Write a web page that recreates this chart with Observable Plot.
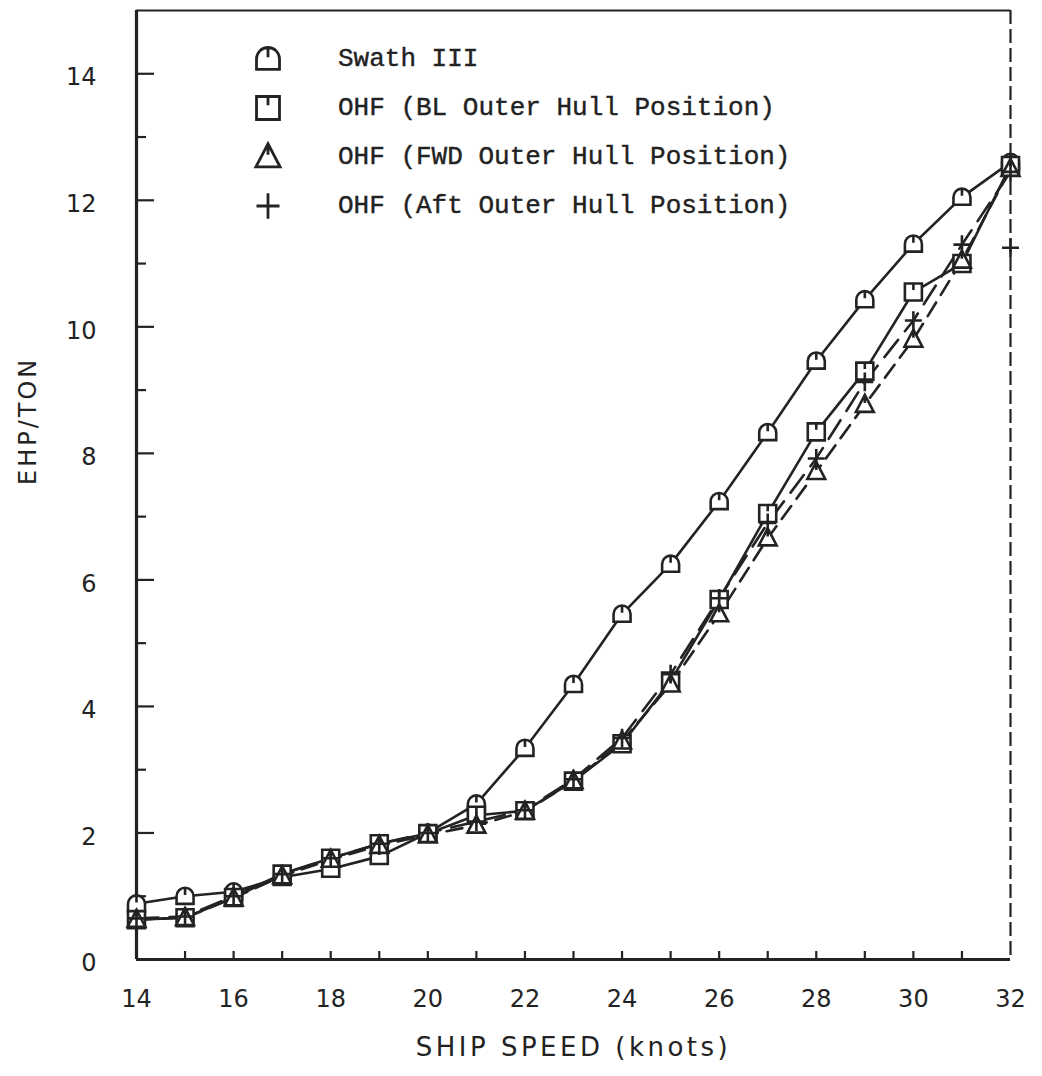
<!DOCTYPE html>
<html><head><meta charset="utf-8">
<script src="https://cdn.jsdelivr.net/npm/d3@7"></script>
<script src="https://cdn.jsdelivr.net/npm/@observablehq/plot@0.6"></script>
<style>
body{margin:0;background:#fff;}
#wrap{position:relative;width:1042px;height:1076px;overflow:hidden;}
#legend{position:absolute;left:248px;top:34px;font-family:"Liberation Mono",monospace;font-size:26px;color:#222;-webkit-text-stroke:0.4px #222;}
.row{display:flex;align-items:center;height:49px;white-space:pre;}
.row svg{width:40px;height:40px;margin-right:50px;}
</style></head><body><div id="wrap"><div id="legend"></div></div>
<script>
// ---- data ----
const speeds = [14,15,16,17,18,19,20,21,22,23,24,25,26,27,28,29,30,31,32];
const swath  = [0.88,1.0,1.07,1.3,1.43,1.63,2.0,2.46,3.34,4.35,5.46,6.25,7.24,8.33,9.46,10.43,11.31,12.05,12.6];
const blOuter  = [0.63,0.66,0.98,1.35,1.6,1.83,1.99,2.28,2.35,2.82,3.41,4.4,5.69,7.05,8.34,9.3,10.55,11.0,12.55];
const fwdOuter = [0.63,0.66,0.97,1.32,1.58,1.8,1.97,2.12,2.34,2.82,3.45,4.35,5.46,6.66,7.71,8.77,9.8,11.05,12.5];
const aftOuter = [0.65,0.68,1.0,1.35,1.6,1.83,2.0,2.18,2.36,2.85,3.5,4.51,5.71,6.9,7.92,9.13,10.1,11.3,12.45];
const aftExtraSpeed = [32];
const aftExtraValue = [11.25];
const seriesNames = ["Swath III","OHF (BL Outer Hull Position)","OHF (FWD Outer Hull Position)","OHF (Aft Outer Hull Position)"];
const xTickLabels = [14,16,18,20,22,24,26,28,30,32];
const xMinorTicks = [15,16,17,18,19,20,21,22,23,24,25,26,27,28,29,30,31];
const yTickLabels = [0,2,4,6,8,10,12,14];
const yMajorTicks = [2,4,6,8,10,12,14];
const yMinorTicks = [1,3,5,7,9,11,13];
const xDomain = [14,32];
const yDomain = [0,15];
const xTitle = "SHIP SPEED (knots)";
const yTitle = "EHP/TON";

// ---- symbols ----
const ink = "#232323";
const archSym = {draw(c,size){const r=Math.sqrt(size/Math.PI);
  c.moveTo(-r,r*0.9);c.lineTo(-r,0);c.arc(0,0,r,Math.PI,2*Math.PI);c.lineTo(r,r*0.9);c.closePath();
  c.moveTo(0,-r);c.lineTo(0,-r*0.15);}};
const squareSym = {draw(c,size){const r=Math.sqrt(size/Math.PI);
  c.moveTo(-r,-r);c.lineTo(r,-r);c.lineTo(r,r);c.lineTo(-r,r);c.closePath();
  c.moveTo(0,-r);c.lineTo(0,-r*0.25);}};
const triSym = {draw(c,size){const r=Math.sqrt(size/Math.PI);
  c.moveTo(0,-r*1.15);c.lineTo(r*1.05,r*0.85);c.lineTo(-r*1.05,r*0.85);c.closePath();
  c.moveTo(0,-r*1.15);c.lineTo(0,-r*0.2);}};
const plusSym = {draw(c,size){const r=Math.sqrt(size/Math.PI);
  c.moveTo(-r,0);c.lineTo(r,0);c.moveTo(0,-r*1.1);c.lineTo(0,r*1.1);}};

const seriesValues = [swath, blOuter, fwdOuter, aftOuter];
const symbols = [archSym, squareSym, triSym, plusSym];
const dashes = [null, null, "16,9", "22,11"];

const marks = [];
// axes
marks.push(Plot.axisX({ticks: xMinorTicks, tickSize: -8, fill: "none", stroke: ink, strokeWidth: 2.2, label: null}));
marks.push(Plot.axisX({ticks: xTickLabels, tickSize: 0, tickPadding: 30, fontSize: 24, fill: ink, label: null, tickFormat: d => String(d)}));
marks.push(Plot.axisY({ticks: yMajorTicks, tickSize: -18, fill: "none", stroke: ink, strokeWidth: 2.2, label: null}));
marks.push(Plot.axisY({ticks: yMinorTicks, tickSize: -10, fill: "none", stroke: ink, strokeWidth: 2.2, label: null}));
marks.push(Plot.axisY({ticks: yTickLabels, tickSize: 0, tickPadding: 40, fontSize: 24, fill: ink, label: null, dy: 4, tickFormat: d => String(d)}));
// frame
marks.push(Plot.ruleX([xDomain[0]], {stroke: ink, strokeWidth: 3.2}));
marks.push(Plot.ruleY([yDomain[0]], {stroke: ink, strokeWidth: 3.2}));
marks.push(Plot.ruleY([yDomain[1]], {stroke: ink, strokeWidth: 2.2}));
marks.push(Plot.ruleX([xDomain[1]], {stroke: ink, strokeWidth: 2.2, strokeDasharray: "14,5"}));
// series lines
seriesValues.forEach((vals, k) => {
  const rows = speeds.map((s, i) => ({speed: s, value: vals[i]}));
  marks.push(Plot.line(rows, {x: "speed", y: "value", stroke: ink, strokeWidth: 2.6, strokeDasharray: dashes[k]}));
});
// series markers
seriesValues.forEach((vals, k) => {
  const rows = speeds.map((s, i) => ({speed: s, value: vals[i]}));
  marks.push(Plot.dot(rows, {x: "speed", y: "value", symbol: symbols[k], r: 8.5, stroke: ink, strokeWidth: 2.6, fill: k === 3 ? "none" : "white"}));
});
marks.push(Plot.dot(aftExtraSpeed.map((s, i) => ({speed: s, value: aftExtraValue[i]})),
  {x: "speed", y: "value", symbol: plusSym, r: 8.5, stroke: ink, strokeWidth: 2.6}));
// titles
marks.push(Plot.text([xTitle], {text: d => d, frameAnchor: "bottom", dy: 96, fontSize: 26, fill: ink}));
marks.push(Plot.text([yTitle], {text: d => d, frameAnchor: "left", dx: -108, rotate: -90, fontSize: 24, fill: ink}));

const chart = Plot.plot({
  width: 1042, height: 1076,
  marginLeft: 136, marginRight: 32, marginTop: 10, marginBottom: 117,
  x: {domain: xDomain},
  y: {domain: yDomain},
  style: {fontFamily: "DejaVu Sans, sans-serif", color: ink, background: "white", overflow: "visible"},
  marks
});
document.getElementById("wrap").prepend(chart);
d3.select(chart).selectAll("text").each(function(){
  const t = this.textContent;
  if (t === xTitle) this.setAttribute("letter-spacing", "3.5px");
  if (t === yTitle) this.setAttribute("letter-spacing", "3px");
});

// legend
const legend = document.getElementById("legend");
seriesNames.forEach((name, k) => {
  const row = document.createElement("div");
  row.className = "row";
  const p = d3.path();
  symbols[k].draw(p, 11.5 * 11.5 * Math.PI);
  const svg = d3.create("svg").attr("viewBox", "-20 -20 40 40");
  svg.append("path").attr("d", p.toString()).attr("fill", "none").attr("stroke", ink).attr("stroke-width", 2.8);
  row.appendChild(svg.node());
  const span = document.createElement("span");
  span.textContent = name;
  row.appendChild(span);
  legend.appendChild(row);
});
</script></body></html>
